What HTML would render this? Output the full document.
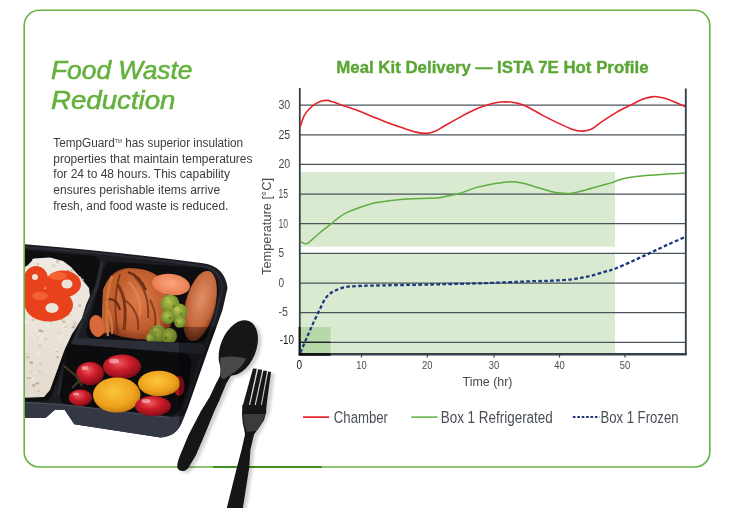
<!DOCTYPE html>
<html><head><meta charset="utf-8"><style>
html,body{margin:0;padding:0;background:#fff;}
body{width:748px;height:508px;overflow:hidden;position:relative;}
svg{position:absolute;left:0;top:0;}
text{font-family:"Liberation Sans",sans-serif;}
</style></head><body>
<svg width="748" height="508" viewBox="0 0 748 508">
<defs>
<clipPath id="clipL"><rect x="25" y="0" width="723" height="508"/></clipPath>
<radialGradient id="gRedT" cx="0.42" cy="0.35" r="0.7"><stop offset="0" stop-color="#ee5a5e"/><stop offset="0.45" stop-color="#cc1c2a"/><stop offset="1" stop-color="#7a0a14"/></radialGradient>
<radialGradient id="gYelT" cx="0.45" cy="0.4" r="0.7"><stop offset="0" stop-color="#fbc53e"/><stop offset="0.6" stop-color="#efa21c"/><stop offset="1" stop-color="#b87010"/></radialGradient>
<radialGradient id="gMeat" cx="0.5" cy="0.45" r="0.6"><stop offset="0" stop-color="#dc7a48"/><stop offset="0.7" stop-color="#bf5c2e"/><stop offset="1" stop-color="#7a3018"/></radialGradient>
<radialGradient id="gMeat2" cx="0.5" cy="0.4" r="0.6"><stop offset="0" stop-color="#e0906a"/><stop offset="0.7" stop-color="#c4663a"/><stop offset="1" stop-color="#7a3418"/></radialGradient>
<radialGradient id="gCarrot" cx="0.5" cy="0.45" r="0.6"><stop offset="0" stop-color="#fca57c"/><stop offset="1" stop-color="#e6774a"/></radialGradient>
<radialGradient id="gBroc" cx="0.45" cy="0.4" r="0.6"><stop offset="0" stop-color="#b2c04a"/><stop offset="1" stop-color="#678428"/></radialGradient>
<linearGradient id="gRice" x1="0" y1="0" x2="0" y2="1"><stop offset="0" stop-color="#efeae3"/><stop offset="1" stop-color="#e4dbcf"/></linearGradient>
<linearGradient id="gSpoon" x1="0" y1="0" x2="1" y2="0"><stop offset="0" stop-color="#0c0c0c"/><stop offset="0.7" stop-color="#1a1a1a"/><stop offset="1" stop-color="#2a2a2a"/></linearGradient>
<filter id="blur1" x="-20%" y="-20%" width="140%" height="140%"><feGaussianBlur stdDeviation="0.6"/></filter>
<filter id="blur2" x="-20%" y="-20%" width="140%" height="140%"><feGaussianBlur stdDeviation="1.5"/></filter>
</defs>
<g clip-path="url(#clipL)">
<!-- tray outer body -->
<path d="M18,243.6 Q110,251 180,260.3 L203,263.3 Q225,266.5 227.5,288 L222.5,310 L219,320 L208.4,349 L198,378.6 L187.7,408 L182,422 Q177,436 160.6,437.6 L74.3,424.2 L64.6,409.8 L55,409.8 L45.4,418 L18,418 Z" fill="#1c1d22"/>
<path d="M20,246.5 Q110,253.5 180,263 L203,266 Q220,269 222.5,288 L214,322 L204,350 L184,410" stroke="#2c2e36" stroke-width="2" fill="none" opacity="0.9"/>
<path d="M102,262 L97,286 L70,352 L58,395" stroke="#2a2c33" stroke-width="3" fill="none"/>
<!-- skirt -->
<path d="M18,402 L62,404 L170,417 L184.5,416 L182,422 Q177,436 160.6,437.6 L74.3,424.2 L64.6,409.8 L55,409.8 L45.4,418 L18,418 Z" fill="#343845"/>
<path d="M18,402 L62,404.5 L170,417.5" stroke="#4a4e5a" stroke-width="1.2" fill="none"/>
<!-- left compartment opening -->
<path d="M18,249.5 L93,256 Q101,257.5 99.5,265 L95,285 L66,355 L52,395 Q49,401 44,401 L18,401.5 Z" fill="#0e0e11"/>
<!-- rice -->
<path d="M18,272 L28,265 L34,258.5 L50,257.5 L63,261 L71,267 L80,277 L89,288 L90,296 L86,305 L82,318 L76,328 L72,334 L64.5,350 L57.3,370 L50,390 L44,397 L18,398 Z" fill="url(#gRice)"/>
<g opacity="0.75" filter="url(#blur1)"><ellipse cx="46.7" cy="279.1" rx="0.9" ry="0.6" fill="#d9ccba"/><ellipse cx="39.4" cy="270.0" rx="0.9" ry="0.6" fill="#efebe6"/><ellipse cx="31.1" cy="317.4" rx="0.9" ry="0.7" fill="#f4f1ec"/><ellipse cx="40.0" cy="345.8" rx="1.5" ry="1.0" fill="#cbb697"/><ellipse cx="28.1" cy="378.2" rx="1.3" ry="0.9" fill="#b59f80"/><ellipse cx="61.2" cy="337.9" rx="1.8" ry="1.2" fill="#f4f1ec"/><ellipse cx="37.1" cy="339.4" rx="1.0" ry="0.7" fill="#d9ccba"/><ellipse cx="31.5" cy="357.7" rx="0.9" ry="0.6" fill="#f4f1ec"/><ellipse cx="38.8" cy="353.3" rx="1.7" ry="1.2" fill="#efebe6"/><ellipse cx="49.2" cy="292.8" rx="1.6" ry="1.1" fill="#d6c6ae"/><ellipse cx="41.4" cy="338.4" rx="1.4" ry="1.0" fill="#f4f1ec"/><ellipse cx="48.0" cy="320.8" rx="2.0" ry="1.4" fill="#f4f1ec"/><ellipse cx="32.9" cy="316.5" rx="1.0" ry="0.7" fill="#b59f80"/><ellipse cx="57.8" cy="263.5" rx="0.9" ry="0.6" fill="#d9ccba"/><ellipse cx="79.8" cy="305.6" rx="1.5" ry="1.1" fill="#b59f80"/><ellipse cx="63.9" cy="321.9" rx="1.9" ry="1.4" fill="#cbb697"/><ellipse cx="56.8" cy="351.0" rx="1.7" ry="1.2" fill="#cbb697"/><ellipse cx="45.7" cy="338.9" rx="1.8" ry="1.3" fill="#d9ccba"/><ellipse cx="44.1" cy="312.0" rx="1.2" ry="0.9" fill="#d9ccba"/><ellipse cx="65.9" cy="327.1" rx="1.7" ry="1.2" fill="#d6c6ae"/><ellipse cx="33.7" cy="292.7" rx="1.9" ry="1.3" fill="#efebe6"/><ellipse cx="58.3" cy="281.3" rx="1.5" ry="1.0" fill="#efebe6"/><ellipse cx="82.9" cy="297.0" rx="2.0" ry="1.4" fill="#efebe6"/><ellipse cx="70.7" cy="311.3" rx="1.0" ry="0.7" fill="#d6c6ae"/><ellipse cx="36.8" cy="290.5" rx="0.8" ry="0.6" fill="#d6c6ae"/><ellipse cx="80.7" cy="283.5" rx="0.8" ry="0.6" fill="#b59f80"/><ellipse cx="53.1" cy="309.7" rx="1.2" ry="0.8" fill="#f4f1ec"/><ellipse cx="33.4" cy="378.3" rx="1.6" ry="1.1" fill="#f4f1ec"/><ellipse cx="74.6" cy="321.9" rx="1.8" ry="1.2" fill="#d9ccba"/><ellipse cx="51.3" cy="313.9" rx="1.4" ry="1.0" fill="#cbb697"/><ellipse cx="51.8" cy="284.7" rx="1.3" ry="0.9" fill="#d6c6ae"/><ellipse cx="32.4" cy="342.1" rx="0.8" ry="0.6" fill="#cbb697"/><ellipse cx="35.1" cy="272.2" rx="1.5" ry="1.1" fill="#b59f80"/><ellipse cx="29.7" cy="287.1" rx="1.0" ry="0.7" fill="#efebe6"/><ellipse cx="41.9" cy="306.6" rx="1.4" ry="1.0" fill="#b59f80"/><ellipse cx="32.7" cy="326.3" rx="1.4" ry="1.0" fill="#efebe6"/><ellipse cx="45.9" cy="278.2" rx="1.2" ry="0.8" fill="#d9ccba"/><ellipse cx="42.7" cy="374.0" rx="1.4" ry="1.0" fill="#d6c6ae"/><ellipse cx="38.7" cy="391.3" rx="1.0" ry="0.7" fill="#b59f80"/><ellipse cx="61.4" cy="261.8" rx="1.2" ry="0.8" fill="#f4f1ec"/><ellipse cx="68.1" cy="270.7" rx="1.4" ry="1.0" fill="#b59f80"/><ellipse cx="39.9" cy="333.8" rx="1.2" ry="0.8" fill="#f4f1ec"/><ellipse cx="39.9" cy="371.6" rx="1.8" ry="1.2" fill="#d6c6ae"/><ellipse cx="40.2" cy="330.5" rx="1.7" ry="1.2" fill="#b59f80"/><ellipse cx="56.6" cy="285.1" rx="1.9" ry="1.4" fill="#f4f1ec"/><ellipse cx="49.4" cy="288.9" rx="1.4" ry="1.0" fill="#d6c6ae"/><ellipse cx="47.6" cy="325.6" rx="1.8" ry="1.3" fill="#f4f1ec"/><ellipse cx="57.1" cy="349.4" rx="0.9" ry="0.6" fill="#d9ccba"/><ellipse cx="57.0" cy="283.0" rx="1.2" ry="0.8" fill="#d9ccba"/><ellipse cx="51.5" cy="314.2" rx="1.7" ry="1.2" fill="#cbb697"/><ellipse cx="36.4" cy="275.8" rx="1.5" ry="1.1" fill="#d6c6ae"/><ellipse cx="56.2" cy="349.8" rx="1.8" ry="1.3" fill="#f4f1ec"/><ellipse cx="48.5" cy="334.8" rx="0.8" ry="0.6" fill="#d6c6ae"/><ellipse cx="31.9" cy="362.9" rx="1.3" ry="0.9" fill="#d6c6ae"/><ellipse cx="39.1" cy="293.3" rx="1.4" ry="1.0" fill="#b59f80"/><ellipse cx="76.2" cy="303.6" rx="1.3" ry="0.9" fill="#f4f1ec"/><ellipse cx="33.8" cy="385.4" rx="1.9" ry="1.3" fill="#b59f80"/><ellipse cx="35.2" cy="329.5" rx="1.7" ry="1.2" fill="#efebe6"/><ellipse cx="35.0" cy="277.8" rx="1.7" ry="1.2" fill="#f4f1ec"/><ellipse cx="62.3" cy="303.6" rx="1.4" ry="1.0" fill="#f4f1ec"/><ellipse cx="57.3" cy="366.7" rx="0.9" ry="0.6" fill="#f4f1ec"/><ellipse cx="37.8" cy="263.9" rx="1.4" ry="1.0" fill="#cbb697"/><ellipse cx="66.0" cy="328.8" rx="1.0" ry="0.7" fill="#f4f1ec"/><ellipse cx="43.6" cy="329.1" rx="1.4" ry="1.0" fill="#efebe6"/><ellipse cx="41.6" cy="331.2" rx="1.9" ry="1.3" fill="#b59f80"/><ellipse cx="84.8" cy="286.4" rx="1.0" ry="0.7" fill="#efebe6"/><ellipse cx="33.1" cy="319.9" rx="1.6" ry="1.1" fill="#cbb697"/><ellipse cx="53.7" cy="287.8" rx="1.7" ry="1.2" fill="#b59f80"/><ellipse cx="34.6" cy="381.6" rx="1.1" ry="0.7" fill="#efebe6"/><ellipse cx="80.8" cy="280.6" rx="2.0" ry="1.4" fill="#efebe6"/><ellipse cx="52.1" cy="317.0" rx="1.2" ry="0.8" fill="#b59f80"/><ellipse cx="62.1" cy="319.7" rx="1.3" ry="0.9" fill="#cbb697"/><ellipse cx="59.7" cy="299.4" rx="0.9" ry="0.7" fill="#cbb697"/><ellipse cx="86.5" cy="290.0" rx="0.9" ry="0.6" fill="#cbb697"/><ellipse cx="43.2" cy="384.8" rx="1.1" ry="0.8" fill="#d6c6ae"/><ellipse cx="33.7" cy="317.1" rx="1.8" ry="1.2" fill="#d9ccba"/><ellipse cx="42.3" cy="278.9" rx="1.5" ry="1.0" fill="#f4f1ec"/><ellipse cx="71.9" cy="270.5" rx="1.8" ry="1.2" fill="#cbb697"/><ellipse cx="37.3" cy="383.3" rx="1.9" ry="1.3" fill="#b59f80"/><ellipse cx="30.6" cy="377.9" rx="1.1" ry="0.8" fill="#cbb697"/><ellipse cx="33.2" cy="259.6" rx="1.3" ry="0.9" fill="#f4f1ec"/><ellipse cx="27.9" cy="357.3" rx="2.0" ry="1.4" fill="#cbb697"/><ellipse cx="42.5" cy="283.4" rx="1.6" ry="1.1" fill="#b59f80"/><ellipse cx="60.6" cy="286.8" rx="1.4" ry="1.0" fill="#efebe6"/><ellipse cx="36.9" cy="306.6" rx="2.0" ry="1.4" fill="#cbb697"/><ellipse cx="59.5" cy="292.4" rx="0.9" ry="0.6" fill="#efebe6"/><ellipse cx="79.9" cy="318.5" rx="1.5" ry="1.0" fill="#efebe6"/><ellipse cx="45.6" cy="288.1" rx="1.2" ry="0.8" fill="#d6c6ae"/><ellipse cx="67.6" cy="314.7" rx="2.0" ry="1.4" fill="#b59f80"/><ellipse cx="53.9" cy="265.8" rx="1.8" ry="1.3" fill="#d9ccba"/><ellipse cx="43.9" cy="291.9" rx="0.9" ry="0.6" fill="#b59f80"/><ellipse cx="37.4" cy="295.7" rx="1.1" ry="0.8" fill="#cbb697"/><ellipse cx="61.7" cy="292.2" rx="1.1" ry="0.7" fill="#b59f80"/><ellipse cx="37.3" cy="304.9" rx="1.4" ry="1.0" fill="#cbb697"/><ellipse cx="58.7" cy="286.1" rx="1.7" ry="1.2" fill="#f4f1ec"/><ellipse cx="31.1" cy="372.4" rx="1.3" ry="0.9" fill="#d6c6ae"/><ellipse cx="45.4" cy="290.6" rx="1.9" ry="1.4" fill="#f4f1ec"/><ellipse cx="82.2" cy="279.7" rx="1.7" ry="1.2" fill="#d9ccba"/><ellipse cx="73.3" cy="327.2" rx="1.7" ry="1.2" fill="#b59f80"/><ellipse cx="79.4" cy="277.5" rx="1.7" ry="1.2" fill="#f4f1ec"/><ellipse cx="26.1" cy="354.1" rx="1.6" ry="1.1" fill="#d9ccba"/><ellipse cx="71.5" cy="290.2" rx="0.9" ry="0.6" fill="#cbb697"/><ellipse cx="50.2" cy="321.2" rx="1.6" ry="1.1" fill="#cbb697"/><ellipse cx="58.7" cy="332.9" rx="1.4" ry="1.0" fill="#d9ccba"/><ellipse cx="75.0" cy="324.3" rx="1.8" ry="1.3" fill="#cbb697"/><ellipse cx="40.7" cy="363.9" rx="1.7" ry="1.2" fill="#d6c6ae"/><ellipse cx="50.6" cy="325.1" rx="1.1" ry="0.8" fill="#d9ccba"/><ellipse cx="28.1" cy="346.6" rx="0.9" ry="0.6" fill="#d6c6ae"/><ellipse cx="34.9" cy="293.6" rx="1.6" ry="1.1" fill="#d9ccba"/><ellipse cx="66.6" cy="276.7" rx="0.9" ry="0.6" fill="#efebe6"/><ellipse cx="43.0" cy="352.1" rx="1.1" ry="0.7" fill="#d9ccba"/><ellipse cx="57.8" cy="357.2" rx="1.4" ry="1.0" fill="#b59f80"/><ellipse cx="56.2" cy="274.6" rx="1.0" ry="0.7" fill="#f4f1ec"/><ellipse cx="26.2" cy="322.3" rx="2.0" ry="1.4" fill="#f4f1ec"/><ellipse cx="55.1" cy="295.6" rx="1.9" ry="1.3" fill="#d6c6ae"/><ellipse cx="31.1" cy="362.6" rx="1.9" ry="1.4" fill="#b59f80"/><ellipse cx="33.9" cy="372.8" rx="1.1" ry="0.8" fill="#f4f1ec"/><ellipse cx="32.5" cy="309.1" rx="1.9" ry="1.3" fill="#efebe6"/><ellipse cx="57.6" cy="261.5" rx="1.9" ry="1.4" fill="#cbb697"/><ellipse cx="70.7" cy="314.8" rx="1.0" ry="0.7" fill="#d9ccba"/></g>
<!-- red pepper -->
<g filter="url(#blur1)">
<g fill="#e8421c">
<ellipse cx="36" cy="279" rx="12" ry="13"/>
<ellipse cx="63" cy="284" rx="18" ry="13.5"/>
<ellipse cx="49" cy="305" rx="24" ry="16.5"/>
<ellipse cx="28" cy="295" rx="6" ry="14"/>
</g>
<g fill="#f8703e" opacity="0.7">
<ellipse cx="58" cy="276" rx="9" ry="4"/>
<ellipse cx="40" cy="296" rx="8" ry="4"/>
</g>
<g fill="#ece5da">
<ellipse cx="67" cy="284" rx="5.5" ry="4.5"/>
<ellipse cx="52" cy="308" rx="6.5" ry="5"/>
<ellipse cx="35" cy="277" rx="3" ry="3"/>
</g>
</g>
<!-- meat compartment opening -->
<path d="M109,261.5 L200,267.8 Q216,270 218,285 L217.8,297 L208.5,332 Q205,343 196,343 L121,343 L90,338 Q85,336 86.5,329 L104,268 Q106,261.5 109,261.5 Z" fill="#0e0e11"/>
<!-- meat -->
<g filter="url(#blur1)">
<path d="M103,292 Q108,270 128,268 Q150,268 160,278 Q166,290 170,305 Q175,325 165,336 Q150,342 130,338 Q110,336 104,325 Z" fill="url(#gMeat)"/>
<path d="M103,290 Q110,272 128,270 L127,280 Q114,286 111,300 L110,332 L101,334 Z" fill="#c0602c"/>
<path d="M118,285 Q128,300 124,330" stroke="#7a3414" stroke-width="3" fill="none"/>
<path d="M140,280 Q155,300 160,330" stroke="#c8743e" stroke-width="3" fill="none" opacity="0.8"/>
<path d="M128,272 Q140,276 146,290 M106,300 Q116,296 120,310" stroke="#4a1e0c" stroke-width="2.2" fill="none" opacity="0.8"/>
<path d="M112,276 Q104,300 108,336" stroke="#d07a42" stroke-width="2.5" fill="none" opacity="0.9"/>
<path d="M120,274 Q112,300 118,334 M134,276 Q150,292 148,318 M150,300 Q160,318 152,334 M125,300 Q140,312 138,330" stroke="#6e2a10" stroke-width="2" fill="none" opacity="0.7"/>
<path d="M129,282 Q142,296 140,316 M108,310 Q113,322 112,334" stroke="#e88a58" stroke-width="2.2" fill="none" opacity="0.7"/>
<ellipse cx="171" cy="284.5" rx="19" ry="10.5" fill="url(#gCarrot)" transform="rotate(8 171 284.5)"/>
<ellipse cx="200" cy="306" rx="15" ry="36" fill="url(#gMeat2)" transform="rotate(14 200 306)"/>
<ellipse cx="97" cy="326" rx="7.5" ry="11" fill="#d9693a" transform="rotate(-12 97 326)"/>
<g fill="url(#gBroc)">
<circle cx="170" cy="304" r="9.5"/><circle cx="179" cy="312" r="8.5"/><circle cx="168" cy="317" r="7"/><circle cx="180" cy="322" r="6"/>
<circle cx="158" cy="334" r="9"/><circle cx="169" cy="336" r="8"/><circle cx="151" cy="338" r="5"/>
</g>
<g fill="#4f6e1c" opacity="0.6">
<circle cx="166" cy="300" r="1.5"/><circle cx="174" cy="306" r="1.5"/><circle cx="181" cy="314" r="1.4"/><circle cx="170" cy="318" r="1.5"/><circle cx="156" cy="332" r="1.5"/><circle cx="166" cy="338" r="1.4"/><circle cx="176" cy="323" r="1.3"/>
</g>
<g fill="#c9d867" opacity="0.5">
<circle cx="167" cy="300" r="2.5"/><circle cx="177" cy="309" r="2.2"/><circle cx="156" cy="330" r="2.4"/>
</g>
</g>
<path d="M88,338.5 L200,343.5 Q206,344 205,350 L203,354 L72,344.5 Q70,340 76,338.5 Z" fill="#2b2e37"/>
<!-- tomato compartment opening -->
<path d="M71,344.3 L182.4,353.2 Q191.5,355 191,363 L189,385 L181.3,405 Q178,416 170,416 L65.4,404 Q59,402 60,394 L66.5,350 Q67,344.3 71,344.3 Z" fill="#0c0c0f"/>
<!-- tomatoes -->
<g filter="url(#blur1)">
<ellipse cx="179" cy="386" rx="5.5" ry="10" fill="#a8141a"/>
<ellipse cx="122" cy="366.6" rx="19" ry="12.2" fill="url(#gRedT)"/>
<ellipse cx="90" cy="373.5" rx="13.8" ry="11.5" fill="url(#gRedT)"/>
<ellipse cx="80.4" cy="397.8" rx="11.6" ry="8.3" fill="url(#gRedT)"/>
<ellipse cx="159" cy="383.5" rx="21" ry="12.7" fill="url(#gYelT)"/>
<ellipse cx="116.7" cy="395" rx="23.7" ry="17.6" fill="url(#gYelT)"/>
<ellipse cx="153" cy="406" rx="18" ry="10" fill="url(#gRedT)"/>
<path d="M64,366 L76,376 L82,386 M72,388 L80,380" stroke="#3a3a28" stroke-width="2" fill="none"/>
<g fill="#fff" opacity="0.45">
<ellipse cx="114" cy="361" rx="5" ry="2.5"/><ellipse cx="85" cy="368" rx="3.5" ry="2"/><ellipse cx="146" cy="401" rx="4.5" ry="2"/><ellipse cx="76" cy="394" rx="3" ry="1.6"/>
</g>
</g>
<!-- dark overlay band -->
<path d="M179,327 L216.3,327 L208.4,349 L198,378.6 L187.7,408 L182,422 L179,426 Z" fill="#000" opacity="0.32"/>
<path d="M150,327 L179,327 L179,343 L150,343 Z" fill="#000" opacity="0.12"/>
</g>

<!-- card -->
<rect x="24.2" y="10.3" width="685.6" height="456.7" rx="15" ry="15" fill="none" stroke="#68b246" stroke-width="1.6"/>
<line x1="213" x2="322" y1="467" y2="467" stroke="#3f8f22" stroke-width="1.8"/>
<!-- cutlery backgrounds -->
<!-- shadows -->
<g fill="#000" opacity="0.18" filter="url(#blur2)" transform="translate(3.5 2)">
<path d="M219.5,356 L220.6,370 L220,376 L216,383.6 L209.7,397 L201,411 L188.5,435 L180.2,455 Q176.5,464 177.5,468 Q179,471.5 184,471 Q187.5,470 189.5,466 L196,455 L204.6,435 L214.4,411 L219.5,400 L226.3,383.6 L231,375.7 Q236,372 240,369 L248,356 Z"/>
<ellipse cx="238.3" cy="347.8" rx="17.8" ry="28.8" transform="rotate(21.5 238.3 347.8)"/>
<path d="M253,368.5 L271,372 L266.3,412 Q259,428 254,434.5 L250.4,450 L249,467 L242.6,510 L226.3,510 L237,467 L241.5,450 L245,434.5 L244,428 Q242.5,424 242,414 Z"/>
</g>
<!-- spoon -->
<g filter="url(#blur1)">
<path d="M219.5,356 L220.6,370 L220,376 L216,383.6 L209.7,397 L201,411 L188.5,435 L180.2,455 Q176.5,464 177.5,468 Q179,471.5 184,471 Q187.5,470 189.5,466 L196,455 L204.6,435 L214.4,411 L219.5,400 L226.3,383.6 L231,375.7 Q236,372 240,369 L248,356 Z" fill="#141414"/>
<ellipse cx="238.3" cy="347.8" rx="17.8" ry="28.8" transform="rotate(21.5 238.3 347.8)" fill="#151515"/>
<path d="M220,358 Q232,355 246,358.5 Q243,366 236,371 Q230,375.5 224,379 L221,378 Q220.5,368 220,358 Z" fill="#48484a"/>
</g>
<!-- fork -->
<g fill="#161616" filter="url(#blur1)">
<path d="M253,368.5 L256.8,368.8 L248.5,407 L242.4,407 Z"/>
<path d="M258.2,369.3 L262.2,369.8 L254.2,407 L249.7,407 Z"/>
<path d="M263.4,370.5 L267,371 L260.5,407 L255.4,407 Z"/>
<path d="M268.2,371.6 L271,372 L266.3,407 L261.5,407 Z"/>
<path d="M242.4,405 L242,414 Q242.5,424 244,428 L245,434.5 L241.5,450 L237,467 L226.3,510 L242.6,510 L249.3,467 L250.4,450 L254,434.5 Q259,428 264,420 L266.3,412 L266.3,405 Z"/>
<path d="M243,414 L265,414 Q262,424 256,431 L247,432 Q243.5,424 243,414 Z" fill="#3a3a3c"/>
</g>

<!-- heading -->
<g fill="#64b13c" stroke="#64b13c" stroke-width="0.55" font-style="italic" font-size="25.5">
<text x="51" y="79.3" textLength="141.5" lengthAdjust="spacingAndGlyphs">Food Waste</text>
<text x="51" y="109.3" textLength="124.5" lengthAdjust="spacingAndGlyphs">Reduction</text>
</g>
<!-- body -->
<g fill="#3c3c3c" font-size="12">
<text x="53.3" y="146.8" textLength="189.8" lengthAdjust="spacingAndGlyphs">TempGuard<tspan font-size="5" dy="-4">TM</tspan><tspan dy="4"> has superior insulation</tspan></text>
<text x="53.3" y="162.6" textLength="199.2" lengthAdjust="spacingAndGlyphs">properties that maintain temperatures</text>
<text x="53.3" y="178" textLength="176.6" lengthAdjust="spacingAndGlyphs">for 24 to 48 hours. This capability</text>
<text x="53.3" y="193.9" textLength="166.9" lengthAdjust="spacingAndGlyphs">ensures perishable items arrive</text>
<text x="53.3" y="209.7" textLength="175" lengthAdjust="spacingAndGlyphs">fresh, and food waste is reduced.</text>
</g>
<!-- chart title -->
<text x="336.3" y="72.6" fill="#5aa634" stroke="#5aa634" stroke-width="0.35" font-weight="bold" font-size="16" textLength="312.2" lengthAdjust="spacingAndGlyphs">Meal Kit Delivery — ISTA 7E Hot Profile</text>
<!-- bands -->
<rect x="300" y="172" width="315" height="74.7" fill="#d9ead0"/>
<rect x="300" y="253" width="315" height="101" fill="#d9ead0"/>
<rect x="300" y="327" width="30.5" height="27" fill="#b6d8a8"/>
<!-- grid -->
<g stroke="#4b535b" stroke-width="1.25"><line x1="300" x2="685.5" y1="342.3" y2="342.3"/><line x1="300" x2="685.5" y1="312.6" y2="312.6"/><line x1="300" x2="685.5" y1="283.0" y2="283.0"/><line x1="300" x2="685.5" y1="253.3" y2="253.3"/><line x1="300" x2="685.5" y1="223.7" y2="223.7"/><line x1="300" x2="685.5" y1="194.0" y2="194.0"/><line x1="300" x2="685.5" y1="164.4" y2="164.4"/><line x1="300" x2="685.5" y1="134.8" y2="134.8"/><line x1="300" x2="685.5" y1="105.1" y2="105.1"/></g>
<!-- axes -->
<line x1="299.8" x2="299.8" y1="88" y2="355" stroke="#36414b" stroke-width="1.8"/>
<line x1="685.8" x2="685.8" y1="88.5" y2="355" stroke="#36414b" stroke-width="1.9"/>
<line x1="299" x2="686.7" y1="354.2" y2="354.2" stroke="#36404a" stroke-width="2.4"/>
<line x1="298.7" x2="330.5" y1="354.4" y2="354.4" stroke="#111" stroke-width="2.6"/>
<line x1="299.6" x2="299.6" y1="327" y2="355" stroke="#111" stroke-width="2"/>
<line x1="300" x2="330.5" y1="342.3" y2="342.3" stroke="#1e2226" stroke-width="1.3"/>
<g stroke="#3b434b" stroke-width="1.2"><line x1="361.5" x2="361.5" y1="354" y2="357.5"/><line x1="427.3" x2="427.3" y1="354" y2="357.5"/><line x1="494" x2="494" y1="354" y2="357.5"/><line x1="559.5" x2="559.5" y1="354" y2="357.5"/><line x1="625" x2="625" y1="354" y2="357.5"/></g>
<!-- curves -->
<path d="M300.1,127.0 C300.8,125.2 302.7,118.8 304.1,115.9 C305.5,113.0 306.7,111.6 308.5,109.7 C310.3,107.8 312.6,105.8 314.7,104.4 C316.8,103.0 318.8,102.0 320.9,101.3 C323.0,100.6 325.2,100.3 327.1,100.4 C329.0,100.5 330.1,101.0 332.5,101.8 C334.9,102.5 337.2,103.5 341.3,104.9 C345.4,106.3 352.1,108.4 357.0,110.2 C361.9,112.0 366.0,114.0 371.0,116.0 C376.0,118.0 381.8,120.5 387.1,122.5 C392.5,124.5 398.3,126.5 403.1,128.1 C407.9,129.7 412.1,131.2 416.0,132.1 C419.9,133.0 423.2,133.5 426.4,133.4 C429.6,133.3 432.1,132.6 435.2,131.3 C438.3,130.0 440.8,128.0 444.8,125.7 C448.8,123.4 454.3,120.3 459.3,117.6 C464.3,114.9 470.6,111.6 475.0,109.6 C479.4,107.6 482.6,106.6 486.0,105.4 C489.4,104.2 492.3,103.3 495.7,102.7 C499.1,102.1 502.6,101.7 506.1,101.7 C509.6,101.8 513.1,102.2 516.5,103.0 C519.9,103.8 521.9,104.2 526.2,106.2 C530.5,108.2 536.9,112.3 542.2,115.1 C547.5,117.9 553.1,120.7 558.2,123.1 C563.3,125.5 568.7,128.2 572.7,129.5 C576.7,130.8 579.1,131.2 582.3,131.1 C585.5,131.0 588.5,130.6 591.8,129.0 C595.1,127.4 597.8,124.4 602.0,121.6 C606.2,118.8 611.9,114.9 616.8,112.1 C621.7,109.3 627.1,106.9 631.5,104.7 C635.9,102.5 639.5,100.4 643.2,99.1 C646.9,97.8 650.1,96.8 653.5,96.6 C656.9,96.4 660.4,97.2 663.8,98.1 C667.2,99.0 670.6,100.4 674.1,101.8 C677.6,103.2 683.2,105.8 685.0,106.6" fill="none" stroke="#e8202a" stroke-width="1.6"/>
<path d="M300.5,241.4 C301.1,241.7 302.9,243.1 304.1,243.4 C305.3,243.7 305.8,244.4 307.6,243.4 C309.4,242.4 312.1,239.5 314.7,237.3 C317.3,235.1 320.2,232.5 323.0,230.2 C325.8,227.9 328.7,225.8 331.3,223.7 C333.9,221.6 335.8,219.6 338.4,217.8 C340.9,216.0 343.7,214.2 346.6,212.7 C349.6,211.2 352.6,210.0 356.1,208.7 C359.7,207.4 364.4,205.8 367.9,204.8 C371.4,203.8 373.1,203.3 377.0,202.6 C380.9,201.9 386.0,201.1 391.0,200.5 C396.0,199.9 401.8,199.2 407.1,198.9 C412.5,198.6 418.3,198.5 423.1,198.4 C427.9,198.3 432.2,198.4 436.0,198.1 C439.8,197.8 441.6,197.3 445.6,196.5 C449.6,195.7 454.9,194.8 460.0,193.3 C465.1,191.8 471.1,189.1 476.1,187.6 C481.1,186.1 486.1,185.4 490.0,184.6 C493.9,183.8 496.1,183.5 499.6,183.0 C503.1,182.5 507.1,181.8 510.9,181.8 C514.6,181.8 518.1,182.2 522.1,183.0 C526.1,183.8 530.1,185.3 534.9,186.7 C539.7,188.1 546.7,190.4 551.0,191.5 C555.3,192.6 557.4,192.8 560.6,193.1 C563.8,193.4 567.0,193.7 570.2,193.4 C573.4,193.1 575.8,192.5 579.8,191.5 C583.8,190.5 590.1,188.7 594.3,187.5 C598.5,186.3 602.0,185.3 605.0,184.5 C608.0,183.7 610.0,183.2 612.0,182.6 C614.0,182.0 615.0,181.3 616.8,180.7 C618.6,180.0 619.7,179.4 622.9,178.7 C626.1,178.0 630.9,177.2 636.1,176.6 C641.3,176.0 648.2,175.5 654.2,175.0 C660.2,174.5 667.1,174.1 672.2,173.8 C677.3,173.5 682.9,173.1 685.0,173.0" fill="none" stroke="#5fae3f" stroke-width="1.5"/>
<path d="M300.5,352.5 C301.5,350.1 304.6,342.8 306.7,337.9 C308.8,333.0 311.0,328.1 313.1,323.4 C315.2,318.7 317.5,314.0 319.6,309.7 C321.8,305.4 323.6,300.7 326.0,297.6 C328.4,294.5 330.9,292.9 334.1,291.1 C337.3,289.4 341.4,288.0 345.4,287.1 C349.4,286.2 353.0,286.3 358.3,286.0 C363.6,285.7 365.1,285.8 377.0,285.5 C388.9,285.2 412.8,284.9 430.0,284.5 C447.2,284.1 463.3,283.8 480.0,283.3 C496.7,282.8 518.1,281.7 530.0,281.3 C541.9,280.9 544.3,281.1 551.4,280.7 C558.5,280.3 566.4,280.0 572.8,279.2 C579.2,278.4 584.5,277.2 589.9,276.0 C595.2,274.8 600.6,272.9 604.9,271.7 C609.2,270.4 611.0,270.3 615.6,268.5 C620.2,266.7 627.0,263.6 632.7,261.0 C638.4,258.4 644.1,255.8 649.8,253.1 C655.5,250.4 661.0,247.7 666.9,245.0 C672.8,242.3 682.0,238.4 685.0,237.1" fill="none" stroke="#1b367f" stroke-width="2.3" stroke-dasharray="3.6 2.4"/>
<!-- labels -->
<g fill="#4a4a4a" font-size="12"><text x="278.4" y="316.4" textLength="9.4" lengthAdjust="spacingAndGlyphs">-5</text><text x="278.4" y="286.8" textLength="5.6" lengthAdjust="spacingAndGlyphs">0</text><text x="278.4" y="257.1" textLength="5.6" lengthAdjust="spacingAndGlyphs">5</text><text x="278.4" y="227.5" textLength="9.5" lengthAdjust="spacingAndGlyphs">10</text><text x="278.4" y="197.8" textLength="9.5" lengthAdjust="spacingAndGlyphs">15</text><text x="278.4" y="168.2" textLength="11.8" lengthAdjust="spacingAndGlyphs">20</text><text x="278.4" y="138.6" textLength="11.8" lengthAdjust="spacingAndGlyphs">25</text><text x="278.4" y="108.9" textLength="11.8" lengthAdjust="spacingAndGlyphs">30</text></g>
<text x="279.8" y="344.3" fill="#1a1a1a" font-size="12" textLength="14.2" lengthAdjust="spacingAndGlyphs">-10</text>
<g fill="#4a4a4a" font-size="11.5"><text x="356.3" y="368.5" textLength="10.4" lengthAdjust="spacingAndGlyphs">10</text><text x="422.1" y="368.5" textLength="10.4" lengthAdjust="spacingAndGlyphs">20</text><text x="488.8" y="368.5" textLength="10.4" lengthAdjust="spacingAndGlyphs">30</text><text x="554.3" y="368.5" textLength="10.4" lengthAdjust="spacingAndGlyphs">40</text><text x="619.8" y="368.5" textLength="10.4" lengthAdjust="spacingAndGlyphs">50</text></g>
<text x="296.6" y="368.7" fill="#111" font-size="12.4" textLength="5.6" lengthAdjust="spacingAndGlyphs">0</text>
<text x="462.5" y="385.6" fill="#4a4a4a" font-size="12" textLength="50" lengthAdjust="spacingAndGlyphs">Time (hr)</text>
<text transform="translate(271.3,275) rotate(-90)" fill="#4a4a4a" font-size="12" textLength="97" lengthAdjust="spacingAndGlyphs">Temperature [°C]</text>
<!-- legend -->
<line x1="303" x2="329.2" y1="417.1" y2="417.1" stroke="#e8202a" stroke-width="1.7"/>
<line x1="411.3" x2="437.5" y1="417.1" y2="417.1" stroke="#5fae3f" stroke-width="1.5"/>
<line x1="572.9" x2="599.6" y1="417.1" y2="417.1" stroke="#1f3575" stroke-width="2" stroke-dasharray="2.6 1.8"/>
<g fill="#4a4f57" font-size="16">
<text x="333.8" y="422.7" textLength="54.2" lengthAdjust="spacingAndGlyphs">Chamber</text>
<text x="440.7" y="422.7" textLength="112.1" lengthAdjust="spacingAndGlyphs">Box 1 Refrigerated</text>
<text x="600.4" y="422.7" textLength="78.1" lengthAdjust="spacingAndGlyphs">Box 1 Frozen</text>
</g>
</svg>
</body></html>
